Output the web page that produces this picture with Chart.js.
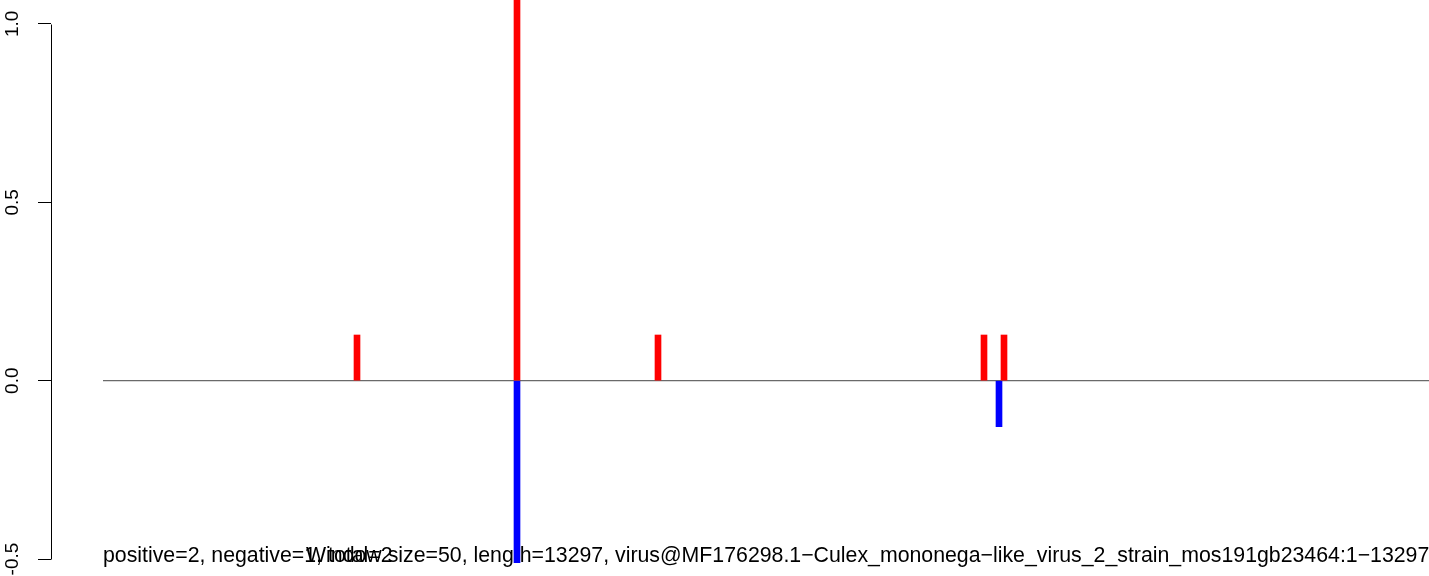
<!DOCTYPE html>
<html>
<head>
<meta charset="utf-8">
<script src="https://cdn.jsdelivr.net/npm/chart.js@4/dist/chart.umd.min.js"></script>
<style>
  html, body { margin: 0; padding: 0; background: #fff; }
  #wrap { width: 1429px; height: 576px; }
</style>
</head>
<body>
<div id="wrap"><canvas id="c" width="1429" height="576"></canvas></div>
<script>
// positions along the genome (nt) and normalised coverage
const posX = [2541, 4141, 5551, 8811, 9011];
const posY = [0.128, 1.1, 0.128, 0.128, 0.128];
const negX = [4141, 8961];
const negY = [-0.51, -0.129];
const seqRange = [1, 13297];
const yTicks = [-0.5, 0, 0.5, 1.0];
const infoText = "positive=2, negative=1, total=2";
const titleText = "Window size=50, length=13297, virus@MF176298.1\u2212Culex_mononega\u2212like_virus_2_strain_mos191gb23464:1\u221213297";

const FONT = "Liberation Sans, Arial, Helvetica, sans-serif";

// R-style axis line (only spans the tick range) and the bottom captions
const extras = {
  id: "extras",
  beforeDatasetsDraw(chart) {
    const ctx = chart.ctx;
    const xs = chart.scales.x;
    ctx.save();
    ctx.fillStyle = "#000";
    ctx.font = "21.3px " + FONT;
    ctx.textBaseline = "alphabetic";
    ctx.textAlign = "left";
    ctx.fillText(infoText, xs.getPixelForValue(seqRange[0]), 562);
    ctx.fillText(titleText, 306, 562);
    ctx.restore();
  },
  afterDraw(chart) {
    const ctx = chart.ctx;
    const ys = chart.scales.y;
    const x = Math.round(ys.right) + 0.5;
    ctx.save();
    ctx.strokeStyle = "#000";
    ctx.lineWidth = 1;
    ctx.beginPath();
    ctx.moveTo(x, Math.round(ys.getPixelForValue(yTicks[0])) + 0.5);
    ctx.lineTo(x, Math.round(ys.getPixelForValue(yTicks[yTicks.length - 1])) + 0.5);
    ctx.stroke();
    ctx.restore();
  }
};

new Chart(document.getElementById("c"), {
  type: "bar",
  data: {
    datasets: [
      {
        label: "positive",
        data: posX.map((x, i) => ({ x: x, y: posY[i] })),
        backgroundColor: "#ff0000",
        barThickness: 6,
        grouped: false,
        order: 0
      },
      {
        label: "negative",
        data: negX.map((x, i) => ({ x: x, y: negY[i] })),
        backgroundColor: "#0000ff",
        barThickness: 6,
        grouped: false,
        order: 0
      },
      {
        type: "line",
        label: "baseline",
        data: seqRange.map((x) => ({ x: x, y: 0 })),
        borderColor: "#6a6a6a",
        borderWidth: 1.3,
        pointRadius: 0,
        order: 1
      }
    ]
  },
  options: {
    responsive: false,
    animation: false,
    layout: { padding: 0 },
    plugins: { legend: { display: false }, tooltip: { enabled: false } },
    scales: {
      x: {
        type: "linear",
        min: -519,
        max: 13261,
        offset: false,
        display: false
      },
      y: {
        min: -0.5475,
        max: 1.067,
        afterBuildTicks(scale) {
          scale.ticks = yTicks.map((v) => ({ value: v }));
        },
        afterFit(scale) {
          scale.width = 51;
          scale.paddingTop = 0;
          scale.paddingBottom = 0;
        },
        border: { display: false },
        grid: {
          drawOnChartArea: false,
          drawTicks: true,
          tickLength: 13,
          color: "#000",
          lineWidth: 1
        },
        ticks: {
          minRotation: 90,
          maxRotation: 90,
          crossAlign: "center",
          padding: 9,
          color: "#000",
          font: { family: FONT, size: 19 },
          callback: (v) => v.toFixed(1)
        }
      }
    }
  },
  plugins: [extras]
});
</script>
</body>
</html>
